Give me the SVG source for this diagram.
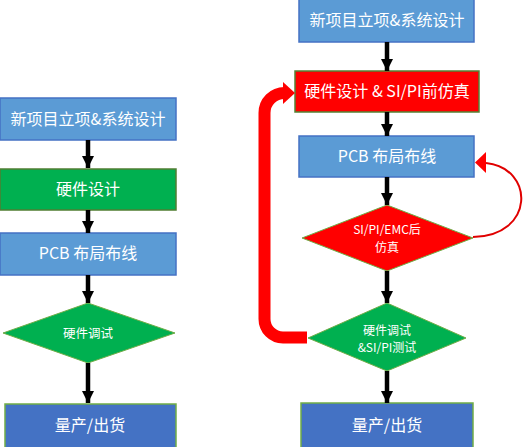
<svg xmlns="http://www.w3.org/2000/svg" width="524" height="447" viewBox="0 0 524 447">
<defs>
<marker id="ah" markerUnits="userSpaceOnUse" markerWidth="12" markerHeight="12" refX="12" refY="6" orient="auto" viewBox="0 0 12 12">
<path d="M0,0 L12,6 L0,12 Z" fill="#000"/>
</marker>
</defs>
<style>
.blue{fill:#5b9bd5;stroke:#4472c4;stroke-width:1.5}
.green{fill:#00b050;stroke:#507e32;stroke-width:1.5}
.red{fill:#ff0000;stroke:#548235;stroke-width:1.5}
.dblue{fill:#4472c4;stroke:#70ad47;stroke-width:1.5}
.gd{fill:#00b050;stroke:#70ad47;stroke-width:1}
.rd{fill:#ff0000;stroke:#70ad47;stroke-width:1}
text{font-family:"Noto Sans CJK SC","Noto Sans",sans-serif;fill:#fff;text-anchor:middle}
.t16{font-size:16px}
.t13{font-size:12.5px}
.t12{font-size:12px}
.arr{stroke:#000;stroke-width:4.5;fill:none;marker-end:url(#ah)}
</style>
<g id="L1"><rect class="blue" x="0" y="98" width="176" height="42"/><text class="t16" x="88" y="125">新项目立项&amp;系统设计</text></g>
<g id="L2"><rect class="green" x="0" y="169" width="176" height="41"/><text class="t16" x="88" y="195">硬件设计</text></g>
<g id="L3"><rect class="blue" x="0" y="233" width="176" height="42"/><text class="t16" x="88" y="259">PCB 布局布线</text></g>
<g id="L4"><polygon class="gd" points="88,303 175,333 88,363 3,333"/><text class="t13" x="88" y="338">硬件调试</text></g>
<g id="L5"><rect class="dblue" x="5" y="404" width="171" height="44"/><text class="t16" x="90" y="431">量产/出货</text></g>
<g id="R1"><rect class="blue" x="299" y="-1" width="175" height="43"/><text class="t16" x="387" y="26">新项目立项&amp;系统设计</text></g>
<g id="R2"><rect class="red" x="295" y="71" width="184" height="41"/><text class="t16" x="387" y="97">硬件设计 &amp; SI/PI前仿真</text></g>
<g id="R3"><rect class="blue" x="299" y="136" width="175" height="41"/><text class="t16" x="387" y="162">PCB 布局布线</text></g>
<g id="R4"><polygon class="rd" points="387,205 473,238 387,271 302,238"/><text class="t12" x="387" y="234">SI/PI/EMC后</text><text class="t12" x="387" y="251.5">仿真</text></g>
<g id="R5"><polygon class="gd" points="387,303 466,338 387,371 308,338"/><text class="t12" x="387" y="334.5">硬件调试</text><text class="t12" x="387" y="352">&amp;SI/PI测试</text></g>
<g id="R6"><rect class="dblue" x="301" y="403" width="172" height="45"/><text class="t16" x="387" y="431">量产/出货</text></g>
<g id="connectors">
<line class="arr" x1="88" y1="140" x2="88" y2="168"/>
<line class="arr" x1="88" y1="210" x2="88" y2="233"/>
<line class="arr" x1="88" y1="275" x2="88" y2="303"/>
<line class="arr" x1="88" y1="363" x2="88" y2="403"/>
<line class="arr" x1="387" y1="42" x2="387" y2="71"/>
<line class="arr" x1="387" y1="112" x2="387" y2="136"/>
<line class="arr" x1="387" y1="177" x2="387" y2="205"/>
<line class="arr" x1="387" y1="271" x2="387" y2="303"/>
<line class="arr" x1="387" y1="371" x2="387" y2="403"/>
<path d="M307,337.5 H283 A18.5,18.5 0 0 1 264.5,319 V113 A20,20 0 0 1 284.5,93" fill="none" stroke="#ff0000" stroke-width="12"/>
<polygon points="283,82 295,93 283,104" fill="#ff0000"/>
<path d="M473,237 C535,236 535,168 486,163" fill="none" stroke="#e00000" stroke-width="2"/>
<polygon points="486,152 475,162.5 486,173" fill="#ff0000"/>
</g>
</svg>
